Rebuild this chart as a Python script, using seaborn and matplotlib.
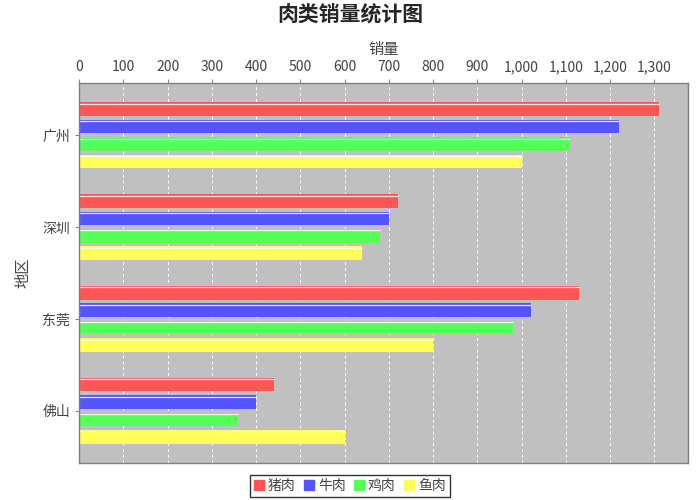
import numpy as np
import pandas as pd
import matplotlib
matplotlib.use('Agg')
import matplotlib.pyplot as plt
from matplotlib.ticker import FuncFormatter
import seaborn as sns

regions = ['广州', '深圳', '东莞', '佛山']
meats = ['猪肉', '牛肉', '鸡肉', '鱼肉']
pork = [1310, 720, 1130, 440]
beef = [1220, 700, 1020, 400]
chicken = [1110, 680, 980, 360]
fish = [1000, 640, 800, 600]
colors = ['#FF5555', '#5555FF', '#55FF55', '#FFFF55']

sns.set_style('white')
plt.rcParams['font.family'] = ['Noto Sans CJK SC', 'DejaVu Sans']

rows = []
for m, vals in zip(meats, [pork, beef, chicken, fish]):
    for r, v in zip(regions, vals):
        rows.append({'地区': r, '肉类': m, '销量': v})
df = pd.DataFrame(rows)

fig = plt.figure(figsize=(7, 5), dpi=100)
ax = fig.add_axes([0.113, 0.074, 0.870, 0.760])
ax.set_facecolor('#C0C0C0')

sns.barplot(data=df, y='地区', x='销量', hue='肉类', order=regions, hue_order=meats,
            palette=colors, orient='h', width=0.76, gap=0.22, saturation=1,
            edgecolor='none', ax=ax, legend=False)

# light highlight line along the top of each bar
for p in ax.patches:
    y0 = p.get_y()
    ax.plot([p.get_x(), p.get_x() + p.get_width()], [y0 + 0.015, y0 + 0.015],
            color='white', lw=0.9, alpha=0.9, solid_capstyle='butt')

ax.set_xlim(0, 1376)
ax.set_ylim(3.57, -0.57)
ax.set_xticks(np.arange(0, 1301, 100))
ax.xaxis.set_major_formatter(FuncFormatter(lambda v, p: '{:,}'.format(int(v))))
ax.xaxis.tick_top()
ax.xaxis.set_label_position('top')
ax.grid(axis='x', color='white', linestyle=(0, (3, 3)), lw=0.7)
ax.set_axisbelow(True)

ax.tick_params(axis='both', labelsize=10, labelcolor='#444444', color='#888888',
               length=3, direction='out')
ax.tick_params(axis='x', bottom=False, top=True)
ax.tick_params(axis='y', left=True)
ax.set_xlabel('销量', fontsize=11, color='#444444', labelpad=4)
ax.set_ylabel('地区', fontsize=11, color='#444444', labelpad=8)
for s in ax.spines.values():
    s.set_color('#808080')
    s.set_linewidth(1)

fig.suptitle('肉类销量统计图', fontsize=15, fontweight='bold', y=0.99)

handles = [plt.Rectangle((0, 0), 1, 1, color=c) for c in colors]
leg = fig.legend(handles, meats, loc='center', bbox_to_anchor=(0.5, 0.028), ncol=4,
                 frameon=True, fontsize=10, handlelength=0.7, handleheight=0.7,
                 handletextpad=0.3, columnspacing=0.6, borderpad=0.3,
                 fancybox=False, edgecolor='black')
leg.get_frame().set_linewidth(1)
for t in leg.get_texts():
    t.set_color('#444444')

fig.savefig('out.png', dpi=100)
